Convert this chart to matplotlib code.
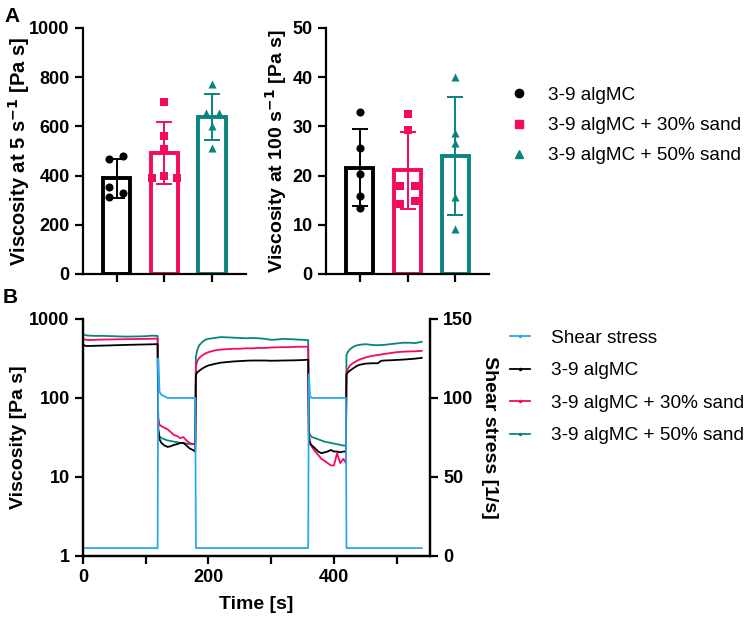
import numpy as np
import matplotlib
matplotlib.use("Agg")
import matplotlib.pyplot as plt
from matplotlib.lines import Line2D

plt.rcParams['font.family'] = ['Liberation Sans', 'DejaVu Sans']

# ---- data: panel A (individual samples) ----
groups = ['3-9 algMC', '3-9 algMC + 30% sand', '3-9 algMC + 50% sand']
visc_5 = [
    [467, 480, 353, 331, 311],
    [701, 559, 507, 389, 400, 392],
    [773, 654, 654, 600, 514],
]
visc_100 = [
    [32.9, 25.6, 20.3, 15.9, 13.4],
    [32.6, 29.2, 17.8, 17.9, 14.3, 14.8],
    [40.0, 28.6, 26.7, 15.7, 9.1],
]

# ---- data: panel B (time sweep) ----
time_s = [0, 5, 10, 20, 30, 40, 50, 60, 70, 80, 90, 100, 110, 119,
          120, 122, 125, 130, 135, 140, 145, 150, 155, 160, 165, 170, 175, 179,
          180, 182, 185, 190, 195, 200, 210, 220, 230, 240, 250, 260, 270, 280,
          290, 300, 310, 320, 330, 340, 350, 359,
          360, 362, 365, 370, 375, 380, 385, 390, 395, 400, 405, 410, 415, 419,
          420, 422, 425, 430, 435, 440, 450, 460, 470, 475, 480, 490, 500, 510,
          520, 530, 540]
shear = [5, 5, 5, 5, 5, 5, 5, 5, 5, 5, 5, 5, 5, 5,
         125, 104, 102, 101, 100, 100, 100, 100, 100, 100, 100, 100, 100, 100,
         5, 5, 5, 5, 5, 5, 5, 5, 5, 5, 5, 5, 5, 5,
         5, 5, 5, 5, 5, 5, 5, 5,
         115, 101, 100, 100, 100, 100, 100, 100, 100, 100, 100, 100, 100, 100,
         5, 5, 5, 5, 5, 5, 5, 5, 5, 5, 5, 5, 5, 5,
         5, 5, 5]
visc_plain = [470, 455, 455, 458, 460, 462, 465, 467, 470, 472, 474, 476, 478, 480,
              40, 30, 27, 25, 24, 24.5, 25.5, 26, 27, 27, 25, 23, 22, 21,
              195, 210, 220, 235, 248, 258, 270, 280, 285, 290, 293, 296, 298, 298,
              298, 296, 297, 298, 299, 300, 302, 305,
              30, 26, 25, 23, 21, 20, 20.5, 21, 22, 21, 21, 20.5, 21, 21,
              200, 210, 220, 235, 250, 262, 272, 275, 275, 295, 298, 300, 303, 306,
              310, 315, 322]
visc_30 = [560, 545, 540, 545, 548, 550, 552, 553, 555, 556, 558, 560, 562, 565,
           55, 46, 44, 42, 40, 37, 34, 33, 31, 32, 29, 27, 26, 27,
           250, 290, 320, 345, 365, 380, 400, 410, 415, 420, 420, 425, 425, 430,
           430, 435, 438, 440, 440, 445, 445, 447,
           35, 28, 24, 21, 19, 17, 16, 15, 14, 14, 20, 15, 17, 15,
           200, 230, 255, 275, 290, 305, 325, 340, 350, 355, 360, 370, 380, 385,
           388, 390, 395]
visc_50 = [640, 620, 615, 610, 612, 608, 605, 600, 598, 600, 602, 605, 615, 610,
           40, 33, 31, 30, 29, 28.5, 28, 27.5, 27, 27, 26.5, 26, 26, 26,
           330, 400, 460, 510, 545, 560, 575, 590, 585, 580, 575, 570, 575, 570,
           560, 545, 550, 560, 555, 550, 545, 540,
           38, 34, 32, 31, 30, 29, 28, 27.5, 27, 26.5, 26, 25.5, 25, 25,
           350, 380, 410, 440, 460, 470, 480, 470, 465, 468, 470, 480, 490, 500,
           500, 495, 515]

colors = ['#000000', '#F50A5F', '#0A857E']
markers = ['o', 's', '^']
blue = '#2AA8EE'
# horizontal placement of the dots inside each bar (layout only)
jitter_5 = [
    [-0.16, 0.14, -0.16, 0.14, -0.16],
    [0, 0, 0, -0.26, 0, 0.26],
    [0, -0.14, 0.14, 0, 0],
]
jitter_100 = [
    [0, 0, 0, 0, 0],
    [0, 0, -0.15, 0.15, -0.15, 0.15],
    [0, 0, 0, 0, 0],
]

fig = plt.figure(figsize=(7.54, 6.19), dpi=100)


def bar_panel(ax, data, jit, ymax, step, ylabel, lsize, lpad):
    for i, vals in enumerate(data):
        v = np.array(vals, dtype=float)
        m, sd = v.mean(), v.std(ddof=1)
        ax.bar(i, m, width=0.58, facecolor='white', edgecolor=colors[i],
               linewidth=2.8, zorder=2)
        ax.errorbar(i, m, yerr=sd, color=colors[i], capsize=5.5, capthick=1.4,
                    elinewidth=1.4, zorder=3)
        ax.scatter(i + np.array(jit[i]), v, marker=markers[i], color=colors[i],
                   s=34, zorder=4, linewidths=0)
    ax.set_xlim(-0.7, 2.7)
    ax.set_ylim(0, ymax)
    ax.set_yticks(np.arange(0, ymax + 1, step))
    ax.set_xticks([0, 1, 2])
    ax.set_xticklabels([])
    ax.set_ylabel(ylabel, fontsize=lsize, fontweight='bold', labelpad=lpad)
    for s in ['top', 'right']:
        ax.spines[s].set_visible(False)
    for s in ['left', 'bottom']:
        ax.spines[s].set_linewidth(1.6)
    ax.tick_params(width=1.6, length=6, labelsize=13)
    for lab in ax.get_yticklabels():
        lab.set_fontweight('bold')


ax1 = fig.add_axes([0.110, 0.5574, 0.2162, 0.3974])
bar_panel(ax1, visc_5, jitter_5, 1000, 200,
          'Viscosity at 5 s$^{\\mathbf{-1}}$ [Pa s]', 14.5, -2)
ax2 = fig.add_axes([0.4324, 0.5574, 0.2162, 0.3974])
bar_panel(ax2, visc_100, jitter_100, 50, 10,
          'Viscosity at 100 s$^{\\mathbf{-1}}$ [Pa s]', 14, 3)

hA = [Line2D([], [], ls='none', marker=markers[i], color=colors[i], markersize=6)
      for i in range(3)]
fig.legend(hA, groups, loc='upper left', bbox_to_anchor=(0.676, 0.86),
           frameon=False, fontsize=13.7, handlelength=1.0, handletextpad=1.0,
           labelspacing=0.68, borderpad=0, borderaxespad=0)

# ---- panel B ----
axB = fig.add_axes([0.110, 0.1018, 0.4602, 0.3829])
axB2 = axB.twinx()
axB.plot(time_s, visc_plain, color=colors[0], lw=1.3, zorder=3)
axB.plot(time_s, visc_30, color=colors[1], lw=1.3, zorder=2)
axB.plot(time_s, visc_50, color=colors[2], lw=1.3, zorder=1)
axB2.plot(time_s, shear, color=blue, lw=1.3)
axB.set_yscale('log')
axB.set_ylim(1, 1000)
axB.set_yticks([1, 10, 100, 1000])
axB.set_yticklabels(['1', '10', '100', '1000'])
axB.yaxis.set_minor_locator(matplotlib.ticker.NullLocator())
axB.set_xlim(0, 553)
axB.set_xticks([0, 100, 200, 300, 400, 500])
axB.set_xticklabels(['0', '', '200', '', '400', ''])
axB2.set_ylim(0, 150)
axB2.set_yticks([0, 50, 100, 150])
axB.set_ylabel('Viscosity [Pa s]', fontsize=14, fontweight='bold', labelpad=2)
axB.set_xlabel('Time [s]', fontsize=14, fontweight='bold', labelpad=7)
axB2.set_ylabel('Shear stress [1/s]', fontsize=14, fontweight='bold',
                rotation=270, labelpad=18)
for a in (axB, axB2):
    a.spines['top'].set_visible(False)
    for s in ['left', 'bottom', 'right']:
        a.spines[s].set_linewidth(1.6)
    a.tick_params(width=1.6, length=6, labelsize=13)
    for lab in a.get_yticklabels() + a.get_xticklabels():
        lab.set_fontweight('bold')

bl = ['Shear stress'] + groups
hB = [Line2D([], [], color=c, lw=1.3, marker='.', markersize=3)
      for c in [blue] + colors]
fig.legend(hB, bl, loc='upper left', bbox_to_anchor=(0.676, 0.468),
           frameon=False, fontsize=13.7, handlelength=1.05, handletextpad=1.1,
           labelspacing=0.8, borderpad=0, borderaxespad=0)

fig.text(0.006, 0.988, 'A', fontsize=15, fontweight='bold', va='top')
fig.text(0.004, 0.535, 'B', fontsize=15, fontweight='bold', va='top')

fig.savefig('out.png', dpi=100)
